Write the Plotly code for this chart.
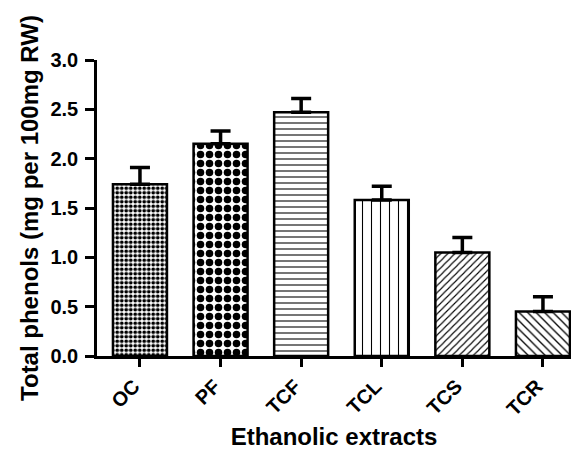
import plotly.graph_objects as go

categories = ["OC", "PF", "TCF", "TCL", "TCS", "TCR"]
values = [1.74, 2.15, 2.47, 1.58, 1.05, 0.45]
errors = [0.17, 0.13, 0.14, 0.14, 0.15, 0.15]
y_ticks = [0.0, 0.5, 1.0, 1.5, 2.0, 2.5, 3.0]

shapes = [".", ".", "-", "|", "/", "\\"]
sizes = [4.5, 9, 6, 9, 5, 6]
solids = [0.55, 0.55, 0.18, 0.12, 0.22, 0.22]

fig = go.Figure()
fig.add_trace(go.Bar(
    x=list(range(len(categories))),
    y=values,
    width=0.67,
    marker=dict(
        color="white",
        line=dict(color="black", width=2.5),
        pattern=dict(shape=shapes, size=sizes, solidity=solids,
                     fgcolor="black", bgcolor="white", fillmode="replace"),
    ),
    error_y=dict(type="data", array=errors, arrayminus=[0] * len(errors),
                 symmetric=False, color="black", thickness=3.5, width=10),
    showlegend=False,
))

font_family = "Liberation Sans, Arial, sans-serif"
fig.update_layout(
    width=571, height=442,
    margin=dict(l=89, r=8, t=52, b=94, autoexpand=False),
    plot_bgcolor="white", paper_bgcolor="white",
    font=dict(family=font_family, color="black"),
)
fig.update_xaxes(
    range=[-0.533, 5.348],
    tickmode="array", tickvals=list(range(len(categories))), ticktext=categories,
    tickangle=-45,
    tickfont=dict(size=20, weight="bold", family=font_family),
    ticklabelshift=-6,
    ticks="outside", ticklen=8, tickwidth=2.5, tickcolor="black",
    showline=True, linecolor="black", linewidth=2.5,
    showgrid=False, zeroline=False, automargin=False,
    title=dict(text="Ethanolic extracts", font=dict(size=24, weight="bold", family=font_family), standoff=14),
)
fig.update_yaxes(
    range=[0, 3.0],
    tickmode="array", tickvals=y_ticks, ticktext=[f"{v:.1f}" for v in y_ticks],
    tickfont=dict(size=20, weight="bold", family=font_family),
    ticklabelstandoff=3,
    ticks="outside", ticklen=9, tickwidth=2.5, tickcolor="black",
    showline=True, linecolor="black", linewidth=2.5,
    showgrid=False, zeroline=False, automargin=False,
    title=dict(text="Total phenols (mg per 100mg RW)", font=dict(size=24, weight="bold", family=font_family), standoff=6),
)

fig.write_html("out.html")
